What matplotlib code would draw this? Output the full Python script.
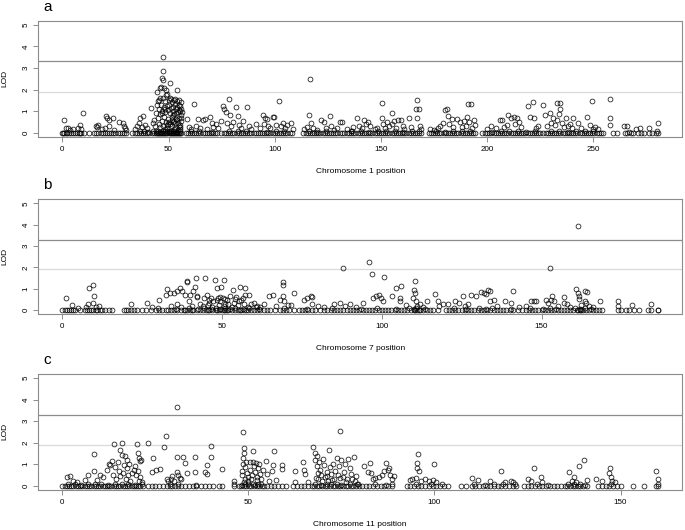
import matplotlib
matplotlib.use("Agg")
import matplotlib.pyplot as plt

plt.rcParams["font.family"] = ["Liberation Sans", "DejaVu Sans"]

FRAME = "#8c8c8c"
SUGGEST = "#d9d9d9"   # suggestive threshold line
SIGNIF = "#8c8c8c"    # significance threshold line

# thresholds drawn on every panel
LOD_SIGNIF = 3.3
LOD_SUGGEST = 1.9

# ---- chromosome 1 : markers above the baseline (position, LOD) ----
chr1_pos = [1, 1.5, 2.5, 3.5, 5, 7.5, 8.5, 9.6, 9, 16, 16.5, 17, 18.5, 20, 20.7, 21.2, 21.8, 22, 23.8,
            24.5, 26.5, 28.5, 29, 29.7, 30.2,
            34, 35, 36, 36.7, 37.5, 38.2, 39, 40, 41.7, 42.5, 43, 43.5, 44, 44.5, 44.5,
            45, 45.2, 45.4, 45.6, 45.8, 46, 46.2, 46.3, 46.5, 46.7, 46.9, 47.1, 47.2, 47.3, 47.2, 47.4,
            47.5, 47.7, 47.9, 48.0, 48.2, 48.4, 48.6, 48.8, 49.0, 49.2, 49.3, 49.5, 49.7, 49.9, 50.1,
            50.3, 50.5, 50.8, 50.9, 51.0, 51.2, 51.4, 51.6, 51.8, 52.0, 52.2, 52.4, 52.6, 52.8, 53.0,
            53.2, 53.4, 53.6, 53.9, 54.0, 54.2, 54.4, 54.6, 54.8, 55.0, 55.1, 55.2, 55.4, 55.6, 55.8,
            56.0, 56.1, 46.0, 48.1, 50.0, 52.5, 54.5, 49.6, 51.5, 53.5, 55.5, 47.0, 45.5, 50.6, 52.9,
            51.9, 54.1, 55.9, 53.1, 54.9, 55.3, 52.1, 50.4, 49.1, 48.5, 56.2, 55.7, 54.7,
            58.6, 59.5, 60.5, 62, 63, 64, 65, 66, 67, 68, 69.6, 70.5, 71, 72.5, 73.5, 74.5, 75.6,
            76.2, 77, 77.5, 78.4, 79, 79.5, 80.5, 81.8, 82.5, 83, 84, 85, 86.9, 88, 89, 91, 93, 94.4,
            95, 95.5, 96.5, 97, 98, 99, 99.8, 100.5, 101.9, 103, 104, 105, 106, 107.5, 108.5,
            114, 115, 116, 116.7, 117.2, 118, 120, 122, 123, 124, 126, 126.5, 128, 129.5, 131.5,
            130.8, 134, 136, 137, 138.6, 139.5, 141, 142, 143, 144, 145, 147, 148, 150.4, 150.4,
            150.8, 152, 153, 154, 155, 155.3, 156, 157, 158, 159.5, 160.5, 161, 163.4, 164, 166.5,
            167.2, 167.7, 167, 168.5, 169,
            173, 175, 177, 178, 179, 180, 181, 181.5, 182, 183.3, 184, 186, 187, 188, 189, 190,
            190.5, 191, 192.5, 191.5, 193, 194, 194.5,
            200, 202, 204, 206, 206.8, 208, 209.5, 210, 211, 212.5, 213, 214, 215, 216, 219.2, 220,
            221.6, 222, 223, 224,
            226.3, 227, 228, 229.4, 230, 231, 232, 233, 234.2, 234.5, 233.7, 233, 235, 236, 237,
            238, 239, 240, 240.5, 242.9, 244, 247, 248.4, 249.2, 250, 251, 252, 257.6, 257.6, 257.6,
            264.5, 266, 270, 272, 276, 280.5]
chr1_lod = [0.6, 0.2, 0.22, 0.12, 0.18, 0.2, 0.35, 0.92, 0.15, 0.3, 0.25, 0.35, 0.15, 0.2, 0.77, 0.66,
            0.58, 0.3, 0.69, 0.12, 0.5, 0.43, 0.32, 0.2, 0.12,
            0.15, 0.3, 0.43, 0.7, 0.25, 0.77, 0.35, 0.2, 1.15, 0.45, 0.6, 0.3, 0.9, 1.9, 1.3,
            1.45, 0.7, 1.1, 0.4, 2.05, 1.6, 0.85, 2.1, 1.3, 0.55, 1.0, 2.55, 2.87, 3.5, 2.45, 1.6,
            0.3, 1.2, 0.75, 2.05, 1.45, 0.95, 0.5, 2.0, 1.75, 1.25, 0.2, 1.8, 1.05, 0.65, 1.5,
            1.3, 0.9, 2.3, 0.4, 1.55, 1.15, 0.75, 1.4, 0.3, 1.2, 1.0, 0.55, 1.5, 0.85, 1.35,
            0.2, 1.1, 0.65, 2.0, 1.45, 1.2, 0.95, 0.45, 1.3, 0.7, 1.5, 1.0, 0.35, 1.25, 0.8,
            0.55, 1.1, 0.25, 0.15, 0.1, 0.15, 0.12, 0.4, 0.6, 0.9, 0.15, 0.9, 1.5, 1.6, 1.55,
            0.5, 0.6, 1.4, 0.45, 1.05, 0.25, 0.8, 0.5, 0.35, 1.1, 0.95, 0.7, 0.3,
            0.63, 0.25, 0.15, 1.33, 0.3, 0.65, 0.2, 0.6, 0.62, 0.15, 0.73, 0.45, 0.25, 0.4, 0.2,
            0.55, 1.23, 1.1, 0.97, 0.45, 1.56, 0.8, 0.3, 0.5, 1.2, 0.77, 0.35, 0.2, 0.55, 1.2,
            0.3, 0.15, 0.4, 0.2, 0.81, 0.4, 0.68, 0.62, 0.3, 0.2, 0.74, 0.72, 0.35, 1.48, 0.3,
            0.45, 0.2, 0.35, 0.45, 0.15,
            0.15, 0.25, 0.8, 2.48, 0.45, 0.2, 0.12, 0.58, 0.5, 0.2, 0.78, 0.3, 0.12, 0.2, 0.5,
            0.5, 0.15, 0.1, 0.25, 0.66, 0.3, 0.2, 0.58, 0.4, 0.5, 0.3, 0.15, 0.2, 1.36, 0.66,
            0.4, 0.22, 0.5, 0.3, 0.92, 0.4, 0.55, 0.2, 0.57, 0.6, 0.3, 0.15, 0.66, 0.25, 1.12,
            1.51, 1.09, 0.66, 0.3, 0.15,
            0.15, 0.12, 0.2, 0.3, 0.45, 1.05, 1.12, 0.77, 0.4, 0.62, 0.25, 0.65, 0.5, 0.25, 0.55,
            0.3, 0.74, 1.33, 1.33, 0.5, 0.2, 0.58, 0.35,
            0.15, 0.3, 0.2, 0.61, 0.61, 0.25, 0.35, 0.84, 0.66, 0.74, 0.4, 0.66, 0.5, 0.25, 1.23,
            0.74, 1.43, 0.66, 0.2, 0.3,
            1.28, 0.81, 0.3, 0.9, 0.45, 0.66, 0.35, 1.36, 1.39, 1.12, 0.85, 0.6, 0.45, 0.25, 0.66,
            0.3, 0.42, 0.2, 0.66, 0.43, 0.2, 0.74, 0.35, 1.48, 0.19, 0.25, 0.15, 1.54, 0.66, 0.35,
            0.3, 0.33, 0.15, 0.2, 0.22, 0.46]
# chromosome 1 : markers just above the baseline, where the band reads darkest
chr1_near_pos = [36.5, 38.5, 40.5, 42.5, 44.2, 45.2, 46.2, 47.2, 48.2, 49.2, 50.2, 51.2, 52.2,
                 53.2, 54.2, 55.2, 60.5, 64.5, 70.5, 78.5, 82.5, 86.5, 96.5, 100.5, 104.5, 116,
                 120, 124, 136.5, 140.5, 144.5, 148.5, 152.5, 156.5, 160.5, 164.5, 168, 176, 180,
                 184, 188, 192, 202.5, 206.5, 210.5, 214.5, 218.5, 222.5, 230, 234, 238, 242, 246,
                 250, 267, 280]
chr1_near_lod = [0.06, 0.1, 0.04, 0.08, 0.06, 0.1, 0.04, 0.08, 0.06, 0.1, 0.04, 0.08, 0.06,
                 0.1, 0.04, 0.08, 0.06, 0.1, 0.04, 0.08, 0.06, 0.1, 0.04, 0.08, 0.06, 0.1,
                 0.04, 0.08, 0.06, 0.1, 0.04, 0.08, 0.06, 0.1, 0.04, 0.08, 0.06, 0.1, 0.04,
                 0.08, 0.06, 0.1, 0.04, 0.08, 0.06, 0.1, 0.04, 0.08, 0.06, 0.1, 0.04, 0.08, 0.06,
                 0.1, 0.04, 0.08]
# chromosome 1 : markers on the baseline (LOD 0)
chr1_zero = [0, 0.5, 1, 1.5, 2, 3, 4, 5, 6, 7, 8, 8.5, 9, 10, 12.4,
             15, 16, 17, 18, 19, 20, 21, 22, 23, 24, 25, 26, 27, 28, 29, 30,
             33, 34, 35, 36, 37, 38, 39, 40, 41, 42, 43, 44, 44.5, 45, 45.5, 46, 46.5, 47, 47.5,
             48, 48.5, 49, 49.5, 50, 50.5, 51, 51.5, 52, 52.5, 53, 53.5, 54, 54.5, 55, 55.5, 56,
             58, 59, 60, 61, 62, 63, 64, 65, 66, 67, 68, 69, 70, 71, 72, 73,
             74.5, 76, 77, 78, 79, 80, 81, 82, 83, 84, 85, 86, 87, 88, 89, 90, 91, 92, 93, 94, 95,
             96, 97, 98, 99, 100, 101, 102, 103, 104, 105, 106, 107, 108,
             113.5, 114.5, 115.5, 116.5, 117.5, 118.5, 119.5, 120.5, 121.5, 122.5, 123.5, 124.5,
             125.5, 126.5, 127.5, 128.5, 129.5, 130.5, 131.5, 132.5,
             134, 135, 136, 137, 138, 139, 140, 141, 142, 143, 144, 145, 146, 147, 148, 149, 150,
             151, 152, 153, 154, 155, 156, 157, 158, 159, 160, 161, 162, 163, 164, 165, 166, 167,
             168, 169,
             172.5, 173.5, 174.5, 175.5, 176.5, 177.5, 178.5, 179.5, 180.5, 181.5, 182.5, 183.5,
             184.5, 185.5, 186.5, 187.5, 188.5, 189.5, 190.5, 191.5, 192.5, 193.5, 194.5,
             197.5, 199, 200, 201, 202, 203, 204, 205, 206, 207, 208, 209, 210, 211, 212, 213, 214,
             215, 216, 217, 218, 219, 220, 221, 222, 223, 224, 225,
             226.5, 227.5, 228.5, 229.5, 230.5, 231.5, 232.5, 233.5, 234.5, 235.5, 236.5, 237.5,
             238.5, 239.5, 240.5, 241.5, 242.5, 243.5, 244.5, 245.5, 246.5, 247.5, 248.5, 249.5,
             250.5, 251.5, 252.5, 253.5, 254.5,
             259.4, 261, 265, 266, 267.5, 268.5, 271, 272.5, 274, 276, 277.5, 279.5, 280.5]

# ---- chromosome 7 ----
chr7_pos = [1, 3, 5, 7.5, 8, 8.2, 9.6, 9.8, 9.6, 10.5, 11.5, 21.5, 26.5, 28, 30, 30.4, 32.5, 32.7,
            33.8, 35, 35.8, 36.9, 37.4, 38.4, 38.9, 39.1, 39.5, 40, 41, 41.4, 41.8, 42, 42.3, 43,
            44.4, 44.7, 45.2, 46, 47.8, 48.3, 48.5, 48.8, 49.3, 49.8, 50.6, 50.2, 51, 52.5, 53.5,
            54, 55.6, 56, 57.2, 57.2, 58.5, 59, 60, 61, 62, 63, 64.7, 66, 67, 68, 69, 69.2, 69,
            69.4, 70.5, 72.5, 71.5, 75.5, 76.5, 77.8, 78.3, 78, 80, 82, 85, 87, 88,
            34, 36, 37, 40.5, 44, 45.5, 47, 49, 50.5, 52, 53, 55, 57, 58, 60.5,
            45.8, 46.5, 47.2, 49.5, 50.8, 51.5, 53.8, 54.5, 55.3, 56.5,
            95.9, 96.8, 100.7, 97.3, 98.3, 99.2, 99.9, 100.4, 103.2, 104.3, 106.1, 105.6, 105.8,
            107.6, 110.3, 110, 110.3, 109.8, 110.6, 111, 114, 116.6, 117.6, 120.7, 122.8, 124.3,
            125.4, 126, 128, 129.6, 130.9, 132, 133.2, 132.7, 133.8, 134, 135.2, 138.5, 141,
            140.5, 146.8, 147.5, 148.3, 151.5, 152, 153, 153.3, 153.8, 152.6, 157, 157, 160.8,
            161.5, 161.3, 161.6, 161.6, 163.5, 164.3, 163.5, 164, 168.4, 174, 174, 178.3, 184.3,
            88.5, 90, 92, 94, 112, 113, 118, 119, 127, 136, 143, 145, 155, 158, 159, 162.5, 165,
            166]
chr7_lod = [0.56, 0.25, 0.1, 0.15, 0.3, 1.02, 1.18, 0.64, 0.32, 0.15, 0.2, 0.28, 0.33, 0.15, 0.1,
            0.48, 0.7, 1.0, 0.79, 0.79, 0.9, 1.02, 0.87, 0.71, 1.3, 1.36, 0.4, 0.71, 0.87, 1.1,
            1.52, 0.6, 0.67, 0.3, 0.56, 1.52, 0.71, 0.35, 1.4, 1.02, 0.48, 0.56, 0.4, 1.1, 1.4,
            0.56, 0.3, 0.64, 0.95, 0.5, 1.08, 0.45, 1.02, 0.71, 0.71, 0.3, 0.35, 0.2, 0.12, 0.3,
            0.64, 0.71, 0.2, 0.45, 1.33, 1.18, 0.64, 0.4, 0.25, 0.79, 0.25, 0.48, 0.56, 0.64,
            0.6, 0.3, 0.2, 0.15, 0.3, 0.35, 1.95,
            0.2, 0.3, 0.15, 0.2, 0.2, 0.25, 0.15, 0.25, 0.2, 0.3, 0.15, 0.25, 0.3, 0.15, 0.15,
            0.45, 0.55, 0.4, 0.6, 0.5, 0.45, 0.35, 0.6, 0.4, 0.55,
            2.26, 1.67, 1.57, 0.56, 0.64, 0.71, 0.56, 0.4, 0.68, 1.02, 1.13, 0.56, 0.4, 0.25,
            1.36, 0.95, 0.79, 0.56, 0.4, 0.2, 0.4, 0.74, 0.4, 0.28, 0.43, 0.33, 0.64, 0.2, 0.71,
            0.64, 0.84, 0.79, 0.95, 0.74, 0.87, 0.4, 0.48, 0.4, 0.91, 0.35, 0.4, 0.4, 0.4, 0.48,
            0.33, 0.48, 0.64, 0.4, 1.98, 0.6, 0.33, 0.98, 3.92, 0.79, 0.64, 0.53, 0.87, 0.84,
            0.4, 0.33, 0.4, 0.4, 0.17, 0.25, 0.28,
            0.2, 0.3, 0.15, 0.35, 0.3, 0.15, 0.2, 0.3, 0.3, 0.2, 0.15, 0.2, 0.2, 0.3, 0.15, 0.25,
            0.2, 0.15]
chr7_near_pos = [35.5, 39.5, 42.5, 44.5, 46.5, 48, 49.5, 51, 52.5, 54, 56.5, 58.5, 61.5, 69.5,
                 76.5, 84.5, 93.5, 98.5, 104.5, 108.5, 110.2, 110.8, 113.5, 122.5, 126.5, 130.5,
                 132.5, 134.5, 140.5, 146.5, 150.5, 152.5, 154.5, 160.5, 162, 163.5, 165.5]
chr7_near_lod = [0.06, 0.1, 0.04, 0.08, 0.06, 0.1, 0.04, 0.08, 0.06, 0.1, 0.04, 0.08, 0.06, 0.1,
                 0.04, 0.08, 0.06, 0.1, 0.04, 0.08, 0.06, 0.1, 0.04, 0.08, 0.06, 0.1, 0.04,
                 0.08, 0.06, 0.1, 0.04, 0.08, 0.06, 0.1, 0.04, 0.08, 0.06]
chr7_zero = [0, 0.7, 1.4, 2, 2.7, 3.4, 4, 5.6, 7, 7.7, 8.4, 9, 9.7, 10.4, 11, 11.8,
             12.5, 13.5, 14.5, 15.5, 19.3, 20, 20.7, 21.5, 22.3,
             23.3, 24.8, 26.3, 27.8, 29.3, 30.3, 31.3, 32.3,
             33, 34, 35, 36, 37, 38, 39, 40, 41, 42, 43, 44, 45, 46, 47, 48, 49, 50, 51, 52, 53, 54,
             55, 56, 57, 58, 59, 60, 61, 62, 63, 38.5, 40.5, 45.5, 48.5, 50.5, 51.5, 55.5, 57.5,
             64, 65, 66.5, 68, 69, 70, 71, 72.5, 74, 75, 76, 77, 78, 79, 80.5, 82, 83, 84, 85, 86,
             87, 88, 89, 90, 91, 92, 93, 94, 95, 96, 97, 98, 99, 100, 101, 102, 103, 104, 105, 106,
             107, 108, 109, 110, 111, 112, 113, 114, 115, 116, 117.5, 110.5, 111.5,
             120, 121, 122, 123, 124, 125, 126, 127, 128, 129, 130, 131, 132, 133, 134, 135, 136,
             137, 138, 139, 140, 141, 142.5,
             144, 145, 146, 147, 148, 149, 150, 151, 152, 153, 154, 155, 156, 157, 158, 159, 160,
             161, 162, 163, 164, 165, 166, 167, 168, 169, 161.5, 162.5,
             174, 175, 176.5, 177.5, 178.8, 180.6, 183.2, 184.3, 186.3, 186.5]

# ---- chromosome 11 ----
chr11_pos = [1.25, 2, 3, 4, 6, 7, 8.4, 8.4, 9.3, 10, 11, 12, 12.5, 12.9, 13.3, 13.6, 14, 14.2, 14.5,
             15, 15.2, 15.4, 15.6, 16, 16.1, 16.3, 16.5, 16.8, 17, 17.3, 17.5, 17.7, 18, 18.2,
             18.8, 19.3, 19.6, 20, 20.4, 20.6, 20.9, 21.2, 20.2, 19.8, 20.5, 21, 21.5, 22.9, 24.3,
             24, 25.2, 26.3, 27.4, 27.8, 28.2, 28.5, 29.2, 29.6, 30, 30.7, 30.7, 30.8, 31.2, 31.6,
             32, 32.3, 33, 33.6, 35.7, 35.7, 36, 38.3, 38.8, 39, 40, 40, 42.8, 46, 46,
             48.2, 48.3, 48.5, 48.6, 48.7, 48.8, 48.6, 49, 49.2, 49.4, 49.6, 49.8, 50.0, 50.3, 50.5,
             51.0, 51.3, 51.3, 51.5, 51.8, 52.0, 52.3, 52.6, 52.9, 53.2, 53.5, 54, 54.7, 55, 55.5,
             56.8, 56.6, 56.4, 57.5, 58.9, 59, 62.5, 62.5, 64.7, 65, 65.2, 66,
             67.4, 67.8, 68, 68.3, 68.5, 68.6, 68.8, 69, 69.3, 69.6, 70, 70.3, 70.6, 71, 71.4, 71.7,
             72, 72.3, 72.7, 73, 73.4, 73.8, 74, 74.3, 74.7, 75, 75.3, 75.6, 76, 76.4, 76.8, 77.2,
             77.6, 78.3, 78.6, 79, 79.5, 68.2, 69.8, 71.2, 72.5, 74.5, 76.2, 77.9, 48.9, 50.8, 52.4,
             81, 82.6, 82.2, 83, 83.5, 84, 85, 85.8, 86.5, 87, 87.4, 87.8, 88, 88.5, 89, 88.5,
             93.5, 94, 95, 95.6, 95.2, 95.2, 95.9, 96.5, 97.5, 98.5, 100, 99.5, 100.5, 102,
             110, 111.8, 115, 116, 118, 119, 120.5, 121, 125, 126, 126.8, 128.5, 129,
             136.2, 137, 137.5, 138, 138.7, 140.3, 141, 143.5, 145, 147.1, 147, 147.3, 147.8,
             148.5, 159.4, 160, 160.1]
chr11_lod = [0.42, 0.47, 0.2, 0.18, 0.25, 0.5, 1.49, 0.68, 0.27, 0.5, 0.42, 0.73, 0.99, 0.96, 1.15,
             0.5, 1.92, 0.88, 0.3, 1.1, 0.7, 1.66, 0.45, 1.97, 1.43, 0.6, 0.95, 1.36, 0.3, 0.8,
             1.2, 0.5, 1.0, 0.2, 0.6, 0.75, 0.9, 1.92, 1.5, 1.3, 1.15, 1.2, 0.7, 0.5, 0.2, 0.4,
             0.15, 1.97, 1.27, 0.65, 0.73, 0.78, 1.78, 2.31, 0.3, 0.2, 0.3, 0.45, 0.2, 3.64, 1.32,
             0.62, 0.5, 0.35, 0.3, 1.32, 1.04, 0.57, 1.32, 0.62, 0.05, 0.62, 0.96, 0.55, 1.32,
             1.84, 0.78, 0.2, 0.1,
             0.5, 0.7, 1.0, 1.27, 1.5, 1.74, 2.48, 0.3, 0.85, 1.1, 0.6, 0.4, 0.2, 0.75, 1.1, 0.5,
             1.61, 1.12, 0.9, 0.65, 1.05, 0.4, 0.8, 1.0, 0.55, 0.3, 0.75, 1.15, 0.55, 0.2, 1.63,
             0.96, 0.7, 0.25, 0.96, 0.76, 0.7, 0.19, 1.08, 0.72, 0.52, 0.15,
             1.78, 1.19, 1.5, 1.4, 0.9, 0.6, 0.3, 1.1, 0.75, 0.5, 1.25, 0.95, 0.4, 0.65, 0.2, 1.66,
             0.85, 0.55, 1.0, 0.3, 0.7, 1.3, 0.5, 0.9, 2.54, 1.2, 0.4, 0.65, 1.0, 0.3, 1.25, 0.8,
             0.55, 1.35, 0.2, 0.45, 0.1, 0.35, 0.2, 0.45, 0.25, 0.35, 0.15, 0.3, 0.15, 0.3, 0.25,
             0.93, 1.04, 0.65, 0.57, 0.3, 0.34, 0.42, 0.5, 0.7, 1.07, 0.73, 0.8, 0.5, 0.3, 0.45,
             0.1, 0.25, 0.3, 0.35, 1.49, 1.04, 0.84, 0.68, 0.2, 0.3, 0.2, 0.99, 0.25, 0.15, 0.1,
             0.34, 0.26, 0.2, 0.1, 0.7, 0.18, 0.2, 0.15, 0.3, 0.2, 0.84, 0.4, 0.15,
             0.65, 0.22, 0.38, 0.15, 0.91, 1.19, 0.26, 0.3, 0.2, 0.84, 0.57, 0.42, 0.2,
             0.18, 0.68, 0.31, 0.1]
chr11_near_pos = [1.5, 3.3, 5.1, 6.9, 8.7, 10.5, 12.3, 14.1, 15.9, 17.7, 19.5, 21.3, 29, 31, 48.4,
                  49.1, 49.8, 51.2, 51.9, 52.6, 53.3, 68, 69.5, 71, 72.2, 73.7, 75, 77.2, 79.2,
                  84, 87, 95, 99, 110.5, 113.5, 118.5, 121.5, 127.5, 130.5, 136, 137.5, 139,
                  140.5, 147.5]
chr11_near_lod = [0.06, 0.1, 0.04, 0.08, 0.06, 0.1, 0.04, 0.08, 0.06, 0.1, 0.04, 0.08, 0.06,
                  0.1, 0.04, 0.08, 0.06, 0.1, 0.04, 0.08, 0.06, 0.1, 0.04, 0.08, 0.06, 0.1,
                  0.04, 0.08, 0.06, 0.1, 0.04, 0.08, 0.06, 0.1, 0.04, 0.08, 0.06, 0.1, 0.04,
                  0.08, 0.06, 0.1, 0.04, 0.08]
chr11_zero = [0, 0.6, 1.2, 1.8, 2.4, 3, 3.6, 4.2, 4.8, 5.4, 6, 6.6, 7.2, 7.8, 8.4, 9, 9.6, 10.2,
              10.8, 11.4, 12, 12.6, 13.2, 13.8, 14.4, 15, 15.6, 16.2, 16.8, 17.4, 18, 18.6, 19.2,
              19.8, 20.4, 21, 21.6,
              23, 24.2, 25, 26, 27, 28, 28.8, 29.6, 30.4, 31.2, 32, 33, 34, 35, 36,
              37.2, 38.4, 39.5, 40.6, 42, 43, 46, 47.5,
              48, 48.7, 49.4, 50.1, 50.8, 51.5, 52.2, 52.9, 53.6, 54.3, 55, 56, 57, 58, 59, 60,
              62, 63, 64, 65, 66, 67, 67.7, 68.4, 69.1, 69.8, 70.5, 71.2, 71.9, 72.6, 73.3, 74,
              74.7, 75.4, 76.1, 76.8, 77.5, 78.2, 78.9, 79.6, 80.5, 81.5, 82.5, 83.5, 84.5, 85.5,
              86.5, 87.5, 88.5,
              92.5, 93.5, 94.5, 95.5, 96.5, 97.5, 98.5, 99.5, 100.5, 101.5, 102.5, 103.5,
              107, 108.5, 110, 111, 112, 113, 114, 115, 116, 117, 118, 119, 120, 121, 122,
              124, 125, 126, 127, 128, 129, 130, 131, 132, 133, 134, 135, 135.7, 136.4, 137.1,
              137.8, 138.5, 139.2, 140, 141,
              144, 145, 146, 147, 148, 149, 150, 153.3, 156.3, 159.4, 160]

PANELS = [
    ("a", "Chromosome 1 position", chr1_pos + chr1_near_pos, chr1_lod + chr1_near_lod,
     chr1_zero, [0, 50, 100, 150, 200, 250]),
    ("b", "Chromosome 7 position", chr7_pos + chr7_near_pos, chr7_lod + chr7_near_lod,
     chr7_zero, [0, 50, 100, 150]),
    ("c", "Chromosome 11 position", chr11_pos + chr11_near_pos, chr11_lod + chr11_near_lod,
     chr11_zero, [0, 50, 100, 150]),
]
# axes rectangles in figure fractions (left, bottom, width, height)
RECTS = [(0.0562, 0.7415, 0.9394, 0.2198),
         (0.0562, 0.4070, 0.9394, 0.2175),
         (0.0562, 0.0755, 0.9394, 0.2194)]

fig = plt.figure(figsize=(6.85, 5.3), dpi=100, facecolor="white")

for (letter, xlab, pos, lod, zero, ticks), rect in zip(PANELS, RECTS):
    ax = fig.add_axes(rect)
    ax.axhline(LOD_SIGNIF, color=SIGNIF, lw=0.9, zorder=1)
    ax.axhline(LOD_SUGGEST, color=SUGGEST, lw=0.9, zorder=1)
    mk = dict(ls="none", marker="o", mfc="none", mec="black", ms=3.5, mew=0.5, zorder=3)
    ax.plot(zero, [0.0] * len(zero), **mk)
    ax.plot(pos, lod, **mk)

    # R style 4 % padding around the data range
    lo, hi = min(pos + zero), max(pos + zero)
    pad = (hi - lo) * 0.04
    ax.set_xlim(lo - pad, hi + pad)
    ax.set_ylim(-0.2, 5.2)

    ax.set_xticks(ticks)
    ax.set_yticks([0, 1, 2, 3, 4, 5])
    ax.tick_params(direction="out", length=3.6, width=0.7, color=FRAME,
                   labelsize=5.8, pad=3)
    ax.tick_params(axis="y", labelrotation=90)
    for lab in ax.get_yticklabels():
        lab.set_va("center")
    for s in ax.spines.values():
        s.set_color(FRAME)
        s.set_linewidth(0.8)

    ax.text(0.5, -0.30, xlab, transform=ax.transAxes, ha="center", va="center", fontsize=6)
    ax.text(-0.052, 0.5, "LOD", transform=ax.transAxes, ha="center", va="center",
            rotation=90, fontsize=6)
    ax.text(0.007, 1.085, letter, transform=ax.transAxes, ha="left", va="baseline", fontsize=11)

fig.savefig("out.png", dpi=100, facecolor="white")
